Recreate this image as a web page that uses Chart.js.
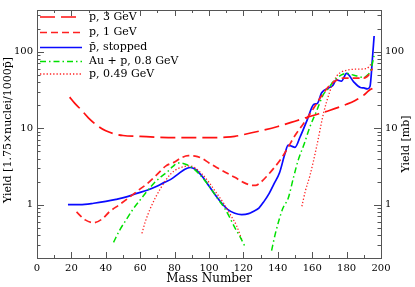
<!DOCTYPE html>
<html><head><meta charset="utf-8">
<script src="https://cdn.jsdelivr.net/npm/chart.js@4.4.1/dist/chart.umd.min.js"></script>
<style>html,body{margin:0;padding:0;background:#fff}canvas{display:block}</style>
</head><body>
<canvas id="c" width="415" height="287"></canvas>
<script>
// ---- data (mass number A, yield) ----
const p3_A = [19, 22, 25, 30, 35, 40, 45, 50, 60, 70, 80, 90, 100, 110, 115, 120, 130, 140, 150, 160, 170, 180, 185, 190, 193, 195];
const p3_Y = [25.4, 21, 18, 13.5, 10.8, 9.2, 8.4, 8.0, 7.8, 7.6, 7.5, 7.5, 7.5, 7.6, 7.8, 8.2, 9.2, 10.5, 12.3, 14.5, 17, 20.5, 23, 27, 31, 33];

const p1_A = [23, 28, 33, 38, 42, 48, 54, 60, 64, 70, 75, 80, 84, 88, 92, 96, 100, 104, 110, 115, 120, 124, 127, 130, 134, 138, 142, 146, 150, 155, 160, 165, 170, 174, 178, 184, 190, 193, 195];
const p1_Y = [0.8, 0.63, 0.58, 0.65, 0.8, 1.0, 1.26, 1.6, 1.87, 2.5, 3.2, 3.6, 4.1, 4.35, 4.3, 4.0, 3.5, 3.1, 2.6, 2.27, 1.95, 1.8, 1.78, 1.95, 2.4, 3.05, 4.0, 5.6, 8.0, 11.5, 17, 25.5, 36, 42, 45, 45, 45, 50, 60];

const pbar_A = [18, 25, 33, 40, 46, 52, 58, 64, 70, 74, 78, 82, 86, 89, 92, 96, 100, 104, 108, 111, 115, 119, 123, 126, 129, 132, 135, 138, 141, 144, 146, 148, 150, 153, 157, 161, 163, 165.5, 169.5, 172, 174, 177, 180, 184, 188, 190, 192, 193.6, 195, 196];
const pbar_Y = [1.0, 1.0, 1.04, 1.1, 1.17, 1.26, 1.4, 1.54, 1.75, 1.95, 2.15, 2.5, 2.9, 3.05, 2.9, 2.35, 1.75, 1.3, 1.0, 0.86, 0.77, 0.74, 0.76, 0.82, 0.9, 1.1, 1.4, 1.9, 2.6, 4.5, 6.0, 5.8, 5.6, 7.7, 12.6, 20.5, 21, 29, 33.4, 36, 42.7, 41, 52, 40.6, 34, 33.5, 32.5, 35, 80, 160];

const au_A = [44.5, 48, 52, 56, 60, 64, 68, 72, 76, 79, 82, 85, 88, 91, 95, 100, 105, 109, 112, 115, 118, 121, null, 136.4, 138.5, 143, 146, 149, 152, 155, 158.7, 162.6, 166.5, 169, 172.3, 177, 180, 183, 186, 189.5, 192, 194, 196];
const au_Y = [0.32, 0.46, 0.64, 0.88, 1.15, 1.5, 1.9, 2.3, 2.7, 3.15, 3.5, 3.45, 3.25, 2.95, 2.4, 1.75, 1.2, 0.9, 0.68, 0.5, 0.38, 0.28, null, 0.25, 0.41, 0.9, 1.2, 2.2, 3.9, 5.9, 10.4, 16.8, 27.5, 32, 40.6, 49.5, 52, 50, 48, 46, 49, 57, 89];

const p049_A = [61, 63, 66, 69, 72, 75, 78, 82, 86, 89, 92, 96, 100, 104, 109, 113, 116, 119, null, 154, 156, 158.7, 162.6, 166.5, 170.3, 174, 177, 180, 185.8, 191.7, 193.6, 195];
const p049_Y = [0.42, 0.6, 0.9, 1.25, 1.65, 2.1, 2.55, 2.95, 3.15, 3.2, 3.0, 2.5, 1.95, 1.45, 1.0, 0.7, 0.53, 0.35, null, 0.95, 1.5, 2.4, 5.75, 15.3, 30.3, 47, 54, 57, 59, 60, 66, 72];

const seriesNames = ['p, 3 GeV', 'p, 1 GeV', 'p\u0304, stopped', 'Au + p, 0.8 GeV', 'p, 0.49 GeV'];
const xTitle = 'Mass Number';
const yTitleLeft = 'Yield [1.75\u00d7nuclei/1000p\u0304]';
const yTitleRight = 'Yield [mb]';
const yLabelValues = [1, 10, 100];
const xMin = 0, xMax = 200, yMin = 0.2, yMax = 350;

function pts(A, Y) { return A.map((a, i) => ({ x: a === null ? NaN : a, y: Y[i] })); }

const FONT = 'DejaVu Serif';
Chart.defaults.font.family = FONT;
Chart.defaults.color = '#000';

const styles = [
  { color: '#ff1010', dash: [15, 6], width: 1.7 },
  { color: '#ff2020', dash: [7, 4], width: 1.7 },
  { color: '#0a0aff', dash: [], width: 1.7 },
  { color: '#00e000', dash: [6, 3, 1.5, 3], width: 1.5 },
  { color: '#ff2020', dash: [1.3, 2], width: 1.3 }
];
const rawData = [[p3_A, p3_Y], [p1_A, p1_Y], [pbar_A, pbar_Y], [au_A, au_Y], [p049_A, p049_Y]];
// draw order: p3, p1, au, p049, pbar on top
const order = [0, 1, 3, 4, 2];
const datasets = order.map(i => ({
  label: seriesNames[i],
  data: pts(rawData[i][0], rawData[i][1]),
  borderColor: styles[i].color,
  borderDash: styles[i].dash,
  borderWidth: styles[i].width,
  pointRadius: 0,
  fill: false,
  cubicInterpolationMode: 'monotone',
  spanGaps: false,
  _legendIndex: i
}));

const frame = {
  id: 'frame',
  afterDraw(chart) {
    const ctx = chart.ctx, a = chart.chartArea;
    const xs = chart.scales.x, ys = chart.scales.y;
    ctx.save();
    ctx.strokeStyle = '#555';
    ctx.lineWidth = 1;
    ctx.setLineDash([]);
    ctx.strokeRect(Math.round(a.left) + 0.5, Math.round(a.top) + 0.5, Math.round(a.right - a.left), Math.round(a.bottom - a.top));
    // x ticks (bottom and top), inward
    for (let v = xMin; v <= xMax; v += 10) {
      const px = Math.round(xs.getPixelForValue(v)) + 0.5;
      const len = (v % 20 === 0) ? 6 : 3;
      ctx.beginPath();
      ctx.moveTo(px, a.bottom); ctx.lineTo(px, a.bottom - len);
      ctx.moveTo(px, a.top); ctx.lineTo(px, a.top + len);
      ctx.stroke();
    }
    // y ticks (left and right), inward
    for (let d = -1; d <= 2; d++) {
      for (let m = 1; m <= 9; m++) {
        const v = m * Math.pow(10, d);
        if (v < yMin || v > yMax) continue;
        const py = Math.round(ys.getPixelForValue(v)) + 0.5;
        const len = m === 1 ? 7 : 3.5;
        ctx.beginPath();
        ctx.moveTo(a.left, py); ctx.lineTo(a.left + len, py);
        ctx.moveTo(a.right, py); ctx.lineTo(a.right - len, py);
        ctx.stroke();
      }
    }
    // titles
    ctx.fillStyle = '#000';
    ctx.font = '12px "' + FONT + '"';
    ctx.textAlign = 'center';
    ctx.textBaseline = 'middle';
    ctx.fillText(xTitle, (a.left + a.right) / 2, 279);
    ctx.font = '11px "' + FONT + '"';
    ctx.save();
    ctx.translate(8, (a.top + a.bottom) / 2 - 4);
    ctx.rotate(-Math.PI / 2);
    ctx.fillText(yTitleLeft, 0, 0);
    ctx.restore();
    ctx.save();
    ctx.translate(406, (a.top + a.bottom) / 2 + 10);
    ctx.rotate(-Math.PI / 2);
    ctx.fillText(yTitleRight, 0, 0);
    ctx.restore();
    // legend
    const rowsY = [17, 32.5, 47.5, 61.5, 74];
    ctx.font = '11px "' + FONT + '"';
    ctx.textAlign = 'left';
    for (let i = 0; i < 5; i++) {
      const s = styles[i];
      ctx.strokeStyle = s.color;
      ctx.lineWidth = s.width;
      ctx.setLineDash(s.dash);
      ctx.beginPath();
      ctx.moveTo(40, rowsY[i]); ctx.lineTo(82, rowsY[i]);
      ctx.stroke();
      ctx.fillText(seriesNames[i], 89, rowsY[i]);
    }
    ctx.restore();
  }
};

new Chart(document.getElementById('c'), {
  type: 'line',
  data: { datasets },
  options: {
    responsive: false,
    animation: false,
    devicePixelRatio: 1,
    layout: { padding: { top: 3, left: 0, right: 0, bottom: 0 } },
    plugins: { legend: { display: false }, tooltip: { enabled: false } },
    scales: {
      x: {
        type: 'linear', min: xMin, max: xMax,
        grid: { display: false, drawTicks: false },
        border: { display: false },
        ticks: { stepSize: 20, padding: 4, font: { size: 10 }, maxRotation: 0, autoSkip: false },
        afterFit(s) { s.height = 29; }
      },
      y: {
        type: 'logarithmic', position: 'left', min: yMin, max: yMax,
        grid: { display: false, drawTicks: false },
        border: { display: false },
        ticks: { padding: 4, font: { size: 10 }, autoSkip: false,
          callback: v => yLabelValues.includes(v) ? String(v) : '' },
        afterFit(s) { s.width = 37; }
      },
      y2: {
        type: 'logarithmic', position: 'right', min: yMin, max: yMax,
        grid: { display: false, drawTicks: false },
        border: { display: false },
        ticks: { padding: 4, font: { size: 10 }, autoSkip: false,
          callback: v => yLabelValues.includes(v) ? String(v) : '' },
        afterFit(s) { s.width = 34; }
      }
    }
  },
  plugins: [frame]
});
</script>
</body></html>
